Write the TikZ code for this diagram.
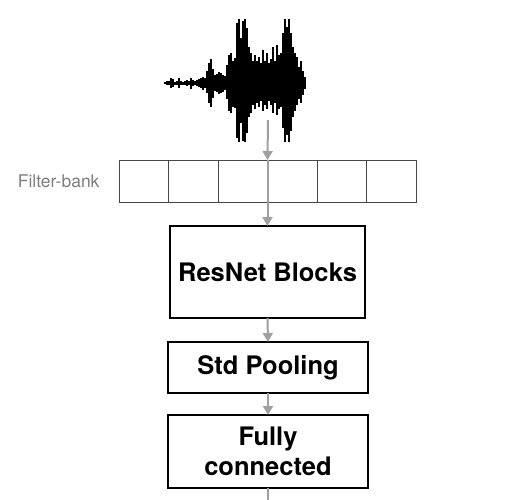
\documentclass[tikz,border=0pt]{standalone}
\usepackage{fontspec}
\setmainfont{TeX Gyre Heros}
\usetikzlibrary{arrows.meta,calc}
\definecolor{flowgray}{RGB}{160,160,160}
\definecolor{labelgray}{RGB}{125,125,125}
\definecolor{cellgray}{RGB}{70,70,70}

\begin{document}
\begin{tikzpicture}[x=1pt,y=-1pt,>={Triangle[width=10pt,length=9pt]},
    block/.style={draw=black,line width=1.5pt,inner sep=0pt,outer sep=0pt,
        font=\fontsize{25.5}{30.5}\selectfont\bfseries,align=center},
    flow/.style={->,flowgray,line width=2pt},
    cell/.style={cellgray,line width=1pt}]
    \useasboundingbox (0,0) rectangle (512,499);

    % Waveform
    \foreach \x/\u/\d in {165/1/1,167/2/2,169/2/2,171/5/5,173/4/4,175/1.5/1.5,
        177/2/2,179/5/5,181/2/2,183/1.5/1.5,185/2/2,187/3/3,189/2/2,191/5/6,
        193/3/3,195/2/2,197/3/3,199/4/4,201/5/5,203/6/7,205/5/5,207/12/10,
        209/20/20,211/24/24,213/14/15,215/8/8,217/9/9,219/11/11,221/10/10,
        223/8/9,225/7/7,227/18/16,229/28/28,231/30/30,233/22/24,235/25/25,
        237/60/55,239/64/59,241/45/40,243/62/58,245/64/59,247/55/50,249/36/34,
        251/30/30,253/22/22,255/28/26,257/22/20,259/26/24,261/20/18,263/33/28,
        265/22/22,267/30/26,269/20/18,271/24/22,273/36/30,275/22/20,277/38/32,
        279/28/26,281/30/24,283/50/45,285/64/59,287/56/52,289/64/59,291/50/48,
        293/36/34,295/30/28,297/26/22,299/16/16,301/22/20,303/12/12,305/6/6}
        \draw[black,line width=2.4pt] (\x,83-\u) -- (\x,83+\d);
    \coordinate (wavebot) at (268,120);

    % Filter-bank
    \node[draw=cellgray,line width=1pt,minimum width=297pt,minimum height=42pt,
        inner sep=0pt,outer sep=0pt] (fbank) at (267.5,181) {};
    \foreach \i in {1,...,5}
        \draw[cell] (119+\i*49.5,160) -- (119+\i*49.5,202);
    \node[labelgray,font=\fontsize{17.5}{20}\selectfont,anchor=east] (fblabel)
        at (103,181) {Filter-bank};

    % Network
    \node[block,minimum width=195pt,minimum height=92pt] (resnet) at (267.5,272) {ResNet Blocks};
    \node[block,minimum width=200pt,minimum height=51pt] (pool) at (268,367.5) {Std Pooling};
    \node[block,minimum width=200pt,minimum height=73pt] (fc) at (268,451.5) {Fully\\connected};
    \coordinate (out) at (268,512);

    % Arrows
    \draw[flow] (wavebot) -- (fbank.north);
    \draw[flow] (fbank.north) -- (resnet.north);
    \draw[flow] (resnet.south) -- (pool.north);
    \draw[flow] (pool.south) -- (fc.north);
    \draw[flow] (fc.south) -- (out);
\end{tikzpicture}
\end{document}
